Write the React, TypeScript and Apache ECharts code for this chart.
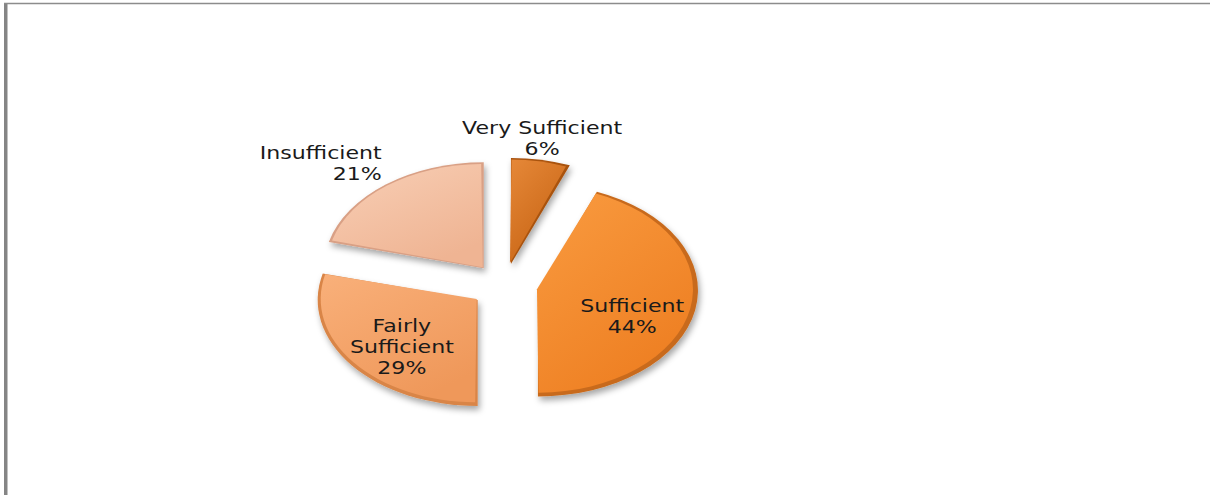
import React, { useEffect, useRef } from "react";
import * as echarts from "echarts";

const categories = ["Very Sufficient", "Sufficient", "Fairly Sufficient", "Insufficient"];
const values = [6, 44, 29, 21];
const labelTexts = ["Very Sufficient", "Sufficient", "Fairly\nSufficient", "Insufficient"];
const edgeColors = ["#a9520f", "#c86a1c", "#d98547", "#d9a085"];
const lightColors = ["#e68838", "#f99b40", "#f9b07a", "#f8cfb6"];
const darkColors = ["#c76414", "#ee7f22", "#ef985a", "#efb493"];

const total = values.reduce((a, b) => a + b, 0);
const cum: number[] = [];
values.reduce((acc, v, i) => {
  cum[i] = acc;
  return acc + v;
}, 0);

export default function App() {
  const ref = useRef<HTMLDivElement>(null);
  useEffect(() => {
    if (!ref.current) return;
    const chart = echarts.init(ref.current, null, { renderer: "svg" });
    const option: any = {
      animation: false,
      backgroundColor: "#ffffff",
      graphic: [
        { type: "rect", shape: { x: 4, y: 3, width: 3.5, height: 492 }, style: { fill: "#858585" } },
        { type: "line", shape: { x1: 4, y1: 3.5, x2: 1210, y2: 3.5 }, style: { stroke: "#8c8c8c", lineWidth: 1.5 } },
      ],
      series: [
        {
          type: "custom",
          coordinateSystem: "none",
          data: values.map((v, i) => ({ name: categories[i], value: [v] })),
          renderItem: (params: any, api: any) => {
            const i = params.dataIndex;
            const v = api.value(0);
            const a0 = -Math.PI / 2 + (cum[i] / total) * Math.PI * 2;
            const a1 = -Math.PI / 2 + ((cum[i] + v) / total) * Math.PI * 2;
            const am = (a0 + a1) / 2;
            const W = api.getWidth();
            const H = api.getHeight();
            const cx = W * 0.417;
            const cy = H * 0.578;
            const rx = 160;
            const ry = 106;
            const s = ry / rx;
            const off = 34;
            const ux = Math.cos(am);
            const uy = Math.sin(am);
            const ax = cx + ux * off;
            const ay = cy + uy * off * s;
            const pct = Math.round((v / total) * 100) + "%";
            const text = labelTexts[i] + "\n" + pct;
            let lx: number, ly: number, align: string, vAlign: string;
            if (v > 25) {
              lx = ax + ux * rx * 0.6;
              ly = ay + uy * ry * 0.45 + 18;
              align = "center";
              vAlign = "middle";
            } else {
              lx = ax + ux * rx * 1.04;
              ly = ay + uy * ry * 1.0;
              align = ux > 0.3 ? "left" : ux < -0.3 ? "right" : "center";
              vAlign = uy < 0 ? "bottom" : "top";
            }
            return {
              type: "group",
              children: [
                {
                  type: "group",
                  x: ax,
                  y: ay,
                  scaleY: s,
                  children: [
                    {
                      type: "sector",
                      shape: { cx: 0, cy: 0, r0: 0, r: rx, startAngle: a0, endAngle: a1, clockwise: true },
                      style: {
                        fill: edgeColors[i],
                        shadowColor: "rgba(0,0,0,0.35)",
                        shadowBlur: 6,
                        shadowOffsetX: 2,
                        shadowOffsetY: 4,
                      },
                    },
                    {
                      type: "sector",
                      shape: { cx: -1, cy: -1.5, r0: 0, r: rx - 4, startAngle: a0 + 0.01, endAngle: a1 - 0.01, clockwise: true },
                      style: {
                        fill: {
                          type: "linear",
                          x: 0,
                          y: 0,
                          x2: 0.6,
                          y2: 1,
                          colorStops: [
                            { offset: 0, color: lightColors[i] },
                            { offset: 1, color: darkColors[i] },
                          ],
                        },
                      },
                    },
                  ],
                },
                {
                  type: "text",
                  x: lx,
                  y: ly,
                  scaleX: 1.3,
                  z2: 10,
                  style: {
                    text,
                    x: 0,
                    y: 0,
                    fill: "#1a1a1a",
                    fontSize: 17,
                    fontFamily: "DejaVu Sans",
                    lineHeight: 21,
                    align,
                    verticalAlign: vAlign,
                  },
                },
              ],
            };
          },
        },
      ],
    };
    chart.setOption(option);
    return () => chart.dispose();
  }, []);
  return (
    <div
      ref={ref}
      style={{ position: "absolute", left: 0, top: 0, width: 1210, height: 495 }}
    />
  );
}
